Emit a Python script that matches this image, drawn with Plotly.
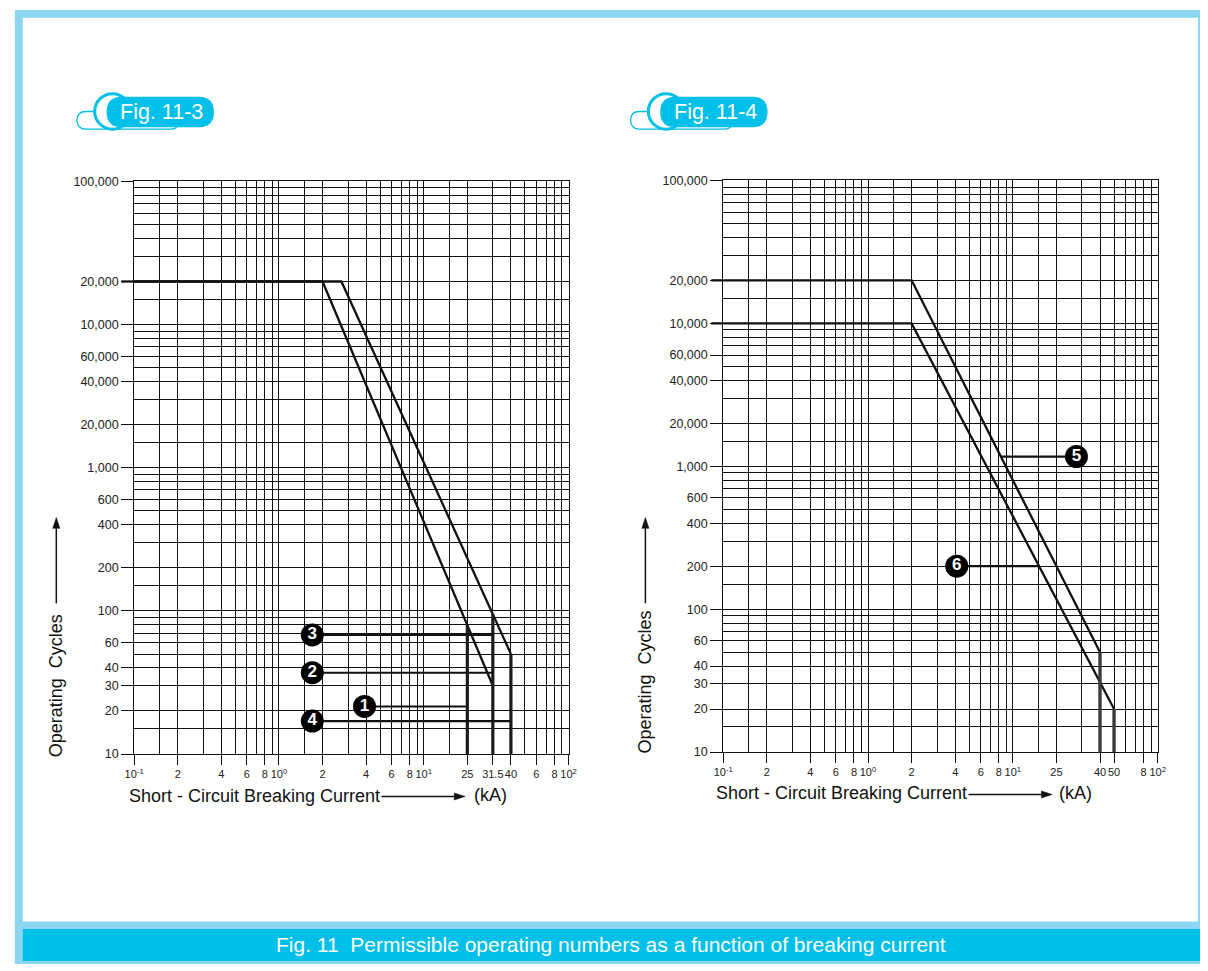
import math
import plotly.graph_objects as go

W, H = 1208, 971

# ---------------- data ----------------
# Fig. 11-3
f3_curve1_x = [0.1, 2.0, 30.0]
f3_curve1_y = [20000, 20000, 30]
f3_curve2_x = [0.1, 2.7, 40.0]
f3_curve2_y = [20000, 20000, 50]
f3_drop_x = [20, 30, 40]
f3_drop_top = [80, 95, 50]
f3_marker_labels = ["1", "2", "3", "4"]
f3_marker_x = [3.9, 1.7, 1.7, 1.7]
f3_marker_y = [21.5, 37, 68, 17]
f3_marker_end_x = [20, 30, 30, 40]

# Fig. 11-4
f4_curve_upper_x = [0.1, 2.0, 40.0]
f4_curve_upper_y = [20000, 20000, 50]
f4_curve_lower_x = [0.1, 2.0, 50.0]
f4_curve_lower_y = [10000, 10000, 20]
f4_drop_x = [40, 50]
f4_drop_top = [50, 20]
f4_marker_labels = ["5", "6"]
f4_marker_x = [27.5, 4.1]
f4_marker_y = [1170, 200]
f4_marker_start_x = [8.3, 15.3]

y_floor = 10

y_tickvals = [10, 20, 30, 40, 60, 100, 200, 400, 600, 1000, 2000, 4000, 6000, 10000, 20000, 100000]
y_ticktext = ["10", "20", "30", "40", "60", "100", "200", "400", "600", "1,000",
              "20,000", "40,000", "60,000", "10,000", "20,000", "100,000"]
x3_tickvals = [0.1, 0.2, 0.4, 0.6, 0.8, 1, 2, 4, 6, 8, 10, 20, 30, 40, 60, 80, 100]
x3_ticktext = ["10<sup>-1</sup>", "2", "4", "6", "8", "10<sup>0</sup>", "2", "4", "6", "8",
               "10<sup>1</sup>", "25", "31.5", "40", "6", "8", "10<sup>2</sup>"]
x4_tickvals = [0.1, 0.2, 0.4, 0.6, 0.8, 1, 2, 4, 6, 8, 10, 20, 40, 50, 80, 100]
x4_ticktext = ["10<sup>-1</sup>", "2", "4", "6", "8", "10<sup>0</sup>", "2", "4", "6", "8",
               "10<sup>1</sup>", "25", "40", "50", "8", "10<sup>2</sup>"]

# ---------------- style ----------------
FONT = "Liberation Sans, Arial, Helvetica, sans-serif"
CYAN = "#00BFE8"
LBLUE = "#8DD6F1"
INK = "#111111"

def px(x):
    return x / W

def py(y):
    return 1 - y / H

X3_DOM = [px(126), px(567)]
Y3_DOM = [py(758), py(177)]
X4_DOM = [px(724), px(1165)]
Y4_DOM = [py(756), py(176)]

grid_mult = [1, 1.5, 2, 3, 4, 5, 6, 7, 8, 9]
x_minor = [m * 10 ** d for d in (-1, 0, 1) for m in grid_mult] + [100]
y_minor = [m * 10 ** d for d in (1, 2, 3, 4) for m in grid_mult] + [100000]

fig = go.Figure()

def seg_trace(xs, ys, width, color, xa, ya):
    fig.add_trace(go.Scatter(x=xs, y=ys, mode="lines", xaxis=xa, yaxis=ya,
                             line=dict(color=color, width=width), hoverinfo="skip",
                             showlegend=False))

def marker_trace(xs, ys, labels, xa, ya):
    fig.add_trace(go.Scatter(x=xs, y=ys, mode="markers+text", xaxis=xa, yaxis=ya,
                             marker=dict(size=23, color="black"),
                             text=labels, textposition="middle center",
                             textfont=dict(color="white", size=17, family=FONT, weight="bold"),
                             cliponaxis=False, hoverinfo="skip", showlegend=False))

# ---- Fig 11-3 ----
seg_trace(f3_curve1_x, f3_curve1_y, 2.3, INK, "x", "y")
seg_trace(f3_curve2_x, f3_curve2_y, 2.3, INK, "x", "y")
dx, dy = [], []
for x, t in zip(f3_drop_x, f3_drop_top):
    dx += [x, x, None]
    dy += [t, y_floor, None]
seg_trace(dx, dy, 3.2, "#1a1a1a", "x", "y")
lx, ly = [], []
for x0, x1, yv in zip(f3_marker_x, f3_marker_end_x, f3_marker_y):
    lx += [x0, x1, None]
    ly += [yv, yv, None]
seg_trace(lx, ly, 2.2, INK, "x", "y")
marker_trace(f3_marker_x, f3_marker_y, f3_marker_labels, "x", "y")

# ---- Fig 11-4 ----
seg_trace(f4_curve_upper_x, f4_curve_upper_y, 2.3, INK, "x2", "y2")
seg_trace(f4_curve_lower_x, f4_curve_lower_y, 2.3, INK, "x2", "y2")
dx, dy = [], []
for x, t in zip(f4_drop_x, f4_drop_top):
    dx += [x, x, None]
    dy += [t, y_floor, None]
seg_trace(dx, dy, 3.4, "#3a3a3a", "x2", "y2")
lx, ly = [], []
for x0, x1, yv in zip(f4_marker_start_x, f4_marker_x, f4_marker_y):
    lx += [x0, x1, None]
    ly += [yv, yv, None]
seg_trace(lx, ly, 2.2, INK, "x2", "y2")
marker_trace(f4_marker_x, f4_marker_y, f4_marker_labels, "x2", "y2")

def xaxis_cfg(dom, tv, tt, anchor):
    return dict(type="log", domain=dom, range=[-1, 2], anchor=anchor,
                tickmode="array", tickvals=tv, ticktext=tt, tickangle=0,
                ticks="outside", ticklen=10, tickwidth=1, tickcolor=INK,
                showgrid=True, gridcolor=INK, gridwidth=1,
                minor=dict(tickmode="array", tickvals=x_minor, showgrid=True,
                           gridcolor=INK, gridwidth=1, ticks=""),
                showline=True, linecolor=INK, linewidth=1, mirror=True,
                zeroline=False, tickfont=dict(family=FONT, size=11, color="#222"),
                fixedrange=True)

def yaxis_cfg(dom, anchor):
    return dict(type="log", domain=dom, range=[1, 5], anchor=anchor,
                tickmode="array", tickvals=y_tickvals, ticktext=y_ticktext, tickangle=0,
                ticks="outside", ticklen=12, tickwidth=1, tickcolor=INK,
                showgrid=True, gridcolor=INK, gridwidth=1,
                minor=dict(tickmode="array", tickvals=y_minor, showgrid=True,
                           gridcolor=INK, gridwidth=1, ticks=""),
                showline=True, linecolor=INK, linewidth=1, mirror=True,
                zeroline=False, tickfont=dict(family=FONT, size=12.5, color="#222"),
                fixedrange=True)

shapes = []

def rect(x0, y0, x1, y1, fill, line=None, lw=0):
    shapes.append(dict(type="rect", xref="paper", yref="paper",
                       x0=px(x0), x1=px(x1), y0=py(y1), y1=py(y0),
                       fillcolor=fill, line=dict(width=lw, color=line or fill), layer="above"))

def pts(x, y):
    return f"{px(x):.5f},{py(y):.5f}"

def rrect(x0, y0, x1, y1, r, fill, line=None, lw=0):
    p = (f"M {pts(x0 + r, y0)} L {pts(x1 - r, y0)} Q {pts(x1, y0)} {pts(x1, y0 + r)} "
         f"L {pts(x1, y1 - r)} Q {pts(x1, y1)} {pts(x1 - r, y1)} "
         f"L {pts(x0 + r, y1)} Q {pts(x0, y1)} {pts(x0, y1 - r)} "
         f"L {pts(x0, y0 + r)} Q {pts(x0, y0)} {pts(x0 + r, y0)} Z")
    shapes.append(dict(type="path", xref="paper", yref="paper", path=p,
                       fillcolor=fill, line=dict(width=lw, color=line or fill), layer="above"))

def circle(cx, cy, r, fill, line, lw):
    shapes.append(dict(type="circle", xref="paper", yref="paper",
                       x0=px(cx - r), x1=px(cx + r), y0=py(cy + r), y1=py(cy - r),
                       fillcolor=fill, line=dict(width=lw, color=line), layer="above"))

def arrow(x0, y0, x1, y1, head=11, half=3.6):
    """arrow from tail (x0,y0) to head (x1,y1), pixel coordinates"""
    L = math.hypot(x1 - x0, y1 - y0)
    ux, uy = (x1 - x0) / L, (y1 - y0) / L
    bx, by = x1 - ux * head, y1 - uy * head
    shapes.append(dict(type="line", xref="paper", yref="paper",
                       x0=px(x0), y0=py(y0), x1=px(bx), y1=py(by),
                       line=dict(color="#111", width=1.5), layer="above"))
    p = (f"M {pts(x1, y1)} L {pts(bx - uy * half, by + ux * half)} "
         f"L {pts(bx + uy * half, by - ux * half)} Z")
    shapes.append(dict(type="path", xref="paper", yref="paper", path=p,
                       fillcolor="#111", line=dict(width=0.5, color="#111"), layer="above"))

# frame
rect(5, 3, 1208, 11, LBLUE)
rect(5, 3, 13, 971, LBLUE)
rect(1206, 3, 1208, 930, LBLUE)
rect(5, 928, 1208, 971, LBLUE)
rect(13, 935.5, 1208, 968, CYAN)

annotations = []

def text(x, y, s, size, color="#111", xanchor="center", angle=0):
    annotations.append(dict(xref="paper", yref="paper", x=px(x), y=py(y), text=s,
                            showarrow=False, xanchor=xanchor, yanchor="middle",
                            textangle=angle, font=dict(family=FONT, size=size, color=color)))

# headers
for off, label in ((0, "Fig. 11-3"), (562, "Fig. 11-4")):
    rrect(68 + off, 106, 172 + off, 124, 9, "white", CYAN, 1.3)
    circle(104 + off, 106, 18, "white", CYAN, 3)
    rrect(98 + off, 91, 207 + off, 122, 15.5, CYAN)
    text(154 + off, 107, label, 21.5, "white")

text(610, 951, "Fig. 11  Permissible operating numbers as a function of breaking current", 21, "white")

# axis titles
for xoff, ytxt in ((47, 689), (645, 685)):
    text(xoff, ytxt, "Operating  Cycles", 18, angle=-90)
    arrow(xoff, 605, xoff, 518)

text(119, 801, "Short - Circuit Breaking Current", 18, xanchor="left")
arrow(377, 801, 462, 801)
text(469, 800, "(kA)", 18, xanchor="left")
text(715, 798, "Short - Circuit Breaking Current", 18, xanchor="left")
arrow(973, 799, 1058, 799)
text(1063, 797, "(kA)", 18, xanchor="left")

# short extensions of the horizontal starts left of the y axes
def ypaper(v, dom):
    return dom[0] + (math.log10(v) - 1) / 4 * (dom[1] - dom[0])

for v in (f3_curve1_y[0],):
    shapes.append(dict(type="line", xref="paper", yref="paper", x0=px(113), x1=X3_DOM[0],
                       y0=ypaper(v, Y3_DOM), y1=ypaper(v, Y3_DOM),
                       line=dict(color=INK, width=2.3), layer="above"))
for v in (f4_curve_upper_y[0], f4_curve_lower_y[0]):
    shapes.append(dict(type="line", xref="paper", yref="paper", x0=px(712), x1=X4_DOM[0],
                       y0=ypaper(v, Y4_DOM), y1=ypaper(v, Y4_DOM),
                       line=dict(color=INK, width=2.3), layer="above"))

fig.update_layout(
    width=W, height=H, margin=dict(l=0, r=0, t=0, b=0),
    paper_bgcolor="white", plot_bgcolor="white",
    showlegend=False,
    xaxis=xaxis_cfg(X3_DOM, x3_tickvals, x3_ticktext, "y"),
    yaxis=yaxis_cfg(Y3_DOM, "x"),
    xaxis2=xaxis_cfg(X4_DOM, x4_tickvals, x4_ticktext, "y2"),
    yaxis2=yaxis_cfg(Y4_DOM, "x2"),
    shapes=shapes, annotations=annotations,
    font=dict(family=FONT),
)

fig.write_html(
    "out.html",
    config={"displayModeBar": False, "staticPlot": True},
    post_script=(
        "document.documentElement.style.margin='0';"
        "document.documentElement.style.padding='0';"
        "document.documentElement.style.overflow='hidden';"
        "document.body.style.margin='0';document.body.style.padding='0';"
        "document.body.style.overflow='hidden';"
    ),
)
